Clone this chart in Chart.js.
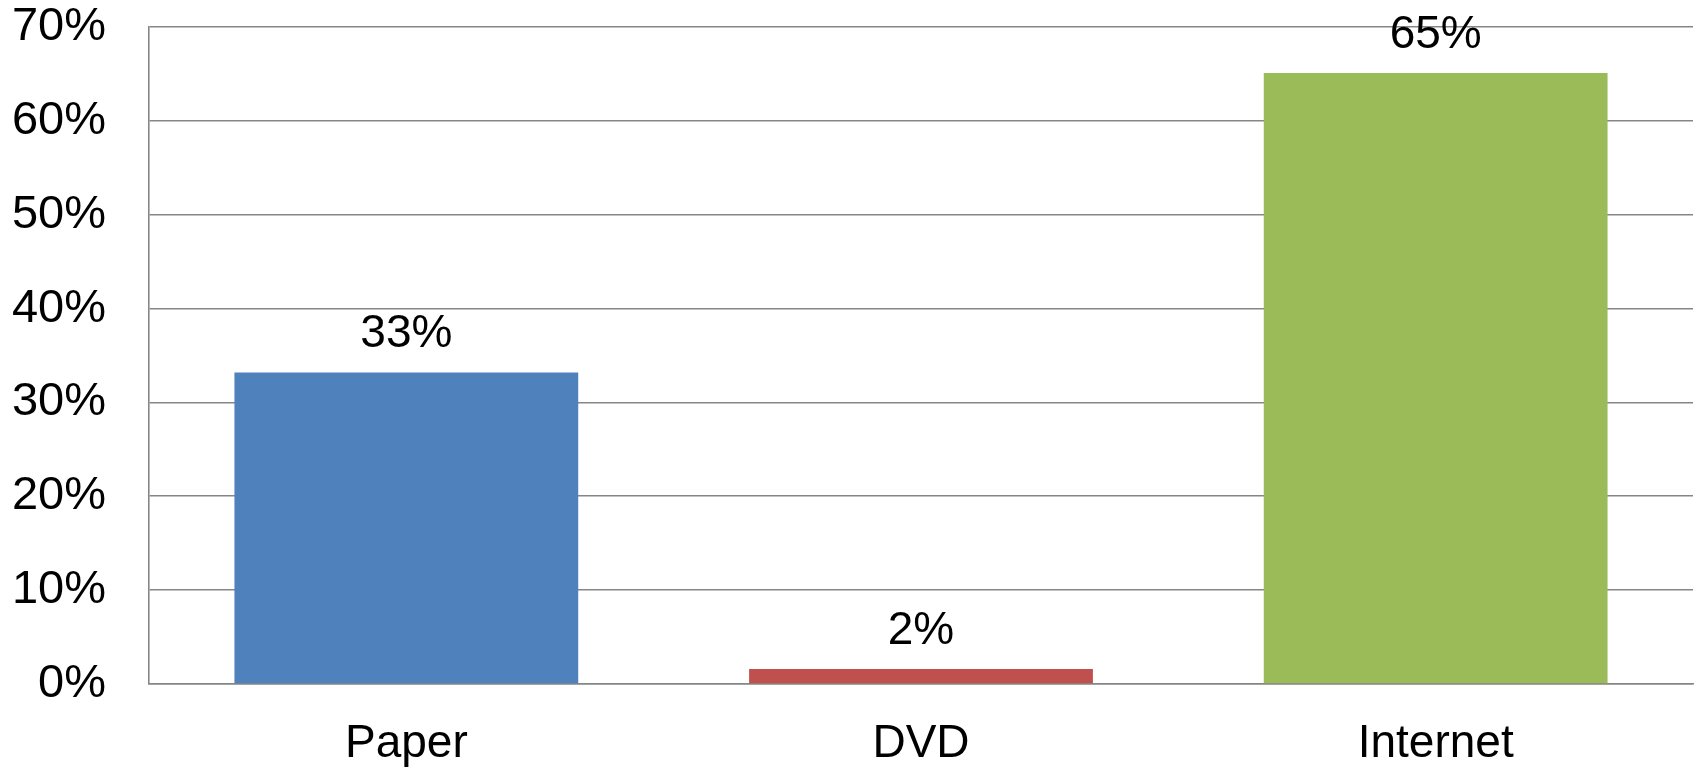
<!DOCTYPE html>
<html lang="en">
<head>
    <meta charset="UTF-8">
    <title>Bar Chart - Chart.js</title>
    <script src="https://cdn.jsdelivr.net/npm/chart.js"></script>
    <style>
        html, body {
            margin: 0;
            padding: 0;
            background: #ffffff;
        }
        .chart-container {
            position: relative;
            width: 1698px;
            height: 769px;
        }
    </style>
</head>
<body>
    <div class="chart-container">
        <canvas id="mediaChart"></canvas>
    </div>

    <script>
        // data
        const categories = ['Paper', 'DVD', 'Internet'];
        const shares = [33.2, 1.6, 65.1];
        const yTicks = [0, 10, 20, 30, 40, 50, 60, 70];

        const barColors = ['#4F81BD', '#C0504D', '#9BBB59'];
        const FONT = "'Liberation Sans', Arial, sans-serif";

        // value labels above the bars
        const valueLabels = {
            id: 'valueLabels',
            afterDatasetsDraw(chart) {
                const ctx = chart.ctx;
                const meta = chart.getDatasetMeta(0);
                ctx.save();
                ctx.font = '46px ' + FONT;
                ctx.fillStyle = '#000';
                ctx.textAlign = 'center';
                ctx.textBaseline = 'alphabetic';
                meta.data.forEach((bar, i) => {
                    ctx.fillText(Math.round(shares[i]) + '%', bar.x, bar.y - 25);
                });
                ctx.restore();
            }
        };

        const ctx = document.getElementById('mediaChart').getContext('2d');
        new Chart(ctx, {
            type: 'bar',
            data: {
                labels: categories,
                datasets: [{
                    data: shares,
                    backgroundColor: barColors,
                    borderWidth: 0,
                    categoryPercentage: 1,
                    barPercentage: 0.668
                }]
            },
            options: {
                responsive: true,
                maintainAspectRatio: false,
                animation: false,
                layout: {
                    padding: { top: 27, right: 5, bottom: 0, left: 0 }
                },
                plugins: {
                    legend: { display: false },
                    tooltip: { enabled: false }
                },
                scales: {
                    x: {
                        grid: { display: false, drawTicks: false },
                        border: { display: true, color: '#868686', width: 1.6 },
                        ticks: {
                            color: '#000',
                            padding: 33,
                            font: { family: FONT, size: 46 }
                        },
                        afterFit(scale) {
                            scale.height = 85;
                            scale.paddingLeft = 0;
                            scale.paddingRight = 0;
                        }
                    },
                    y: {
                        min: 0,
                        max: 70,
                        afterBuildTicks(scale) {
                            scale.ticks = yTicks.map(v => ({ value: v }));
                        },
                        grid: { color: '#868686', lineWidth: 1.6, drawTicks: false },
                        border: { display: true, color: '#868686', width: 1.6 },
                        ticks: {
                            color: '#000',
                            padding: 43,
                            font: { family: FONT, size: 47 },
                            callback: (value) => value + '%'
                        },
                        afterFit(scale) {
                            scale.width = 149;
                            scale.paddingTop = 0;
                            scale.paddingBottom = 0;
                        }
                    }
                }
            },
            plugins: [valueLabels]
        });
    </script>
</body>
</html>
